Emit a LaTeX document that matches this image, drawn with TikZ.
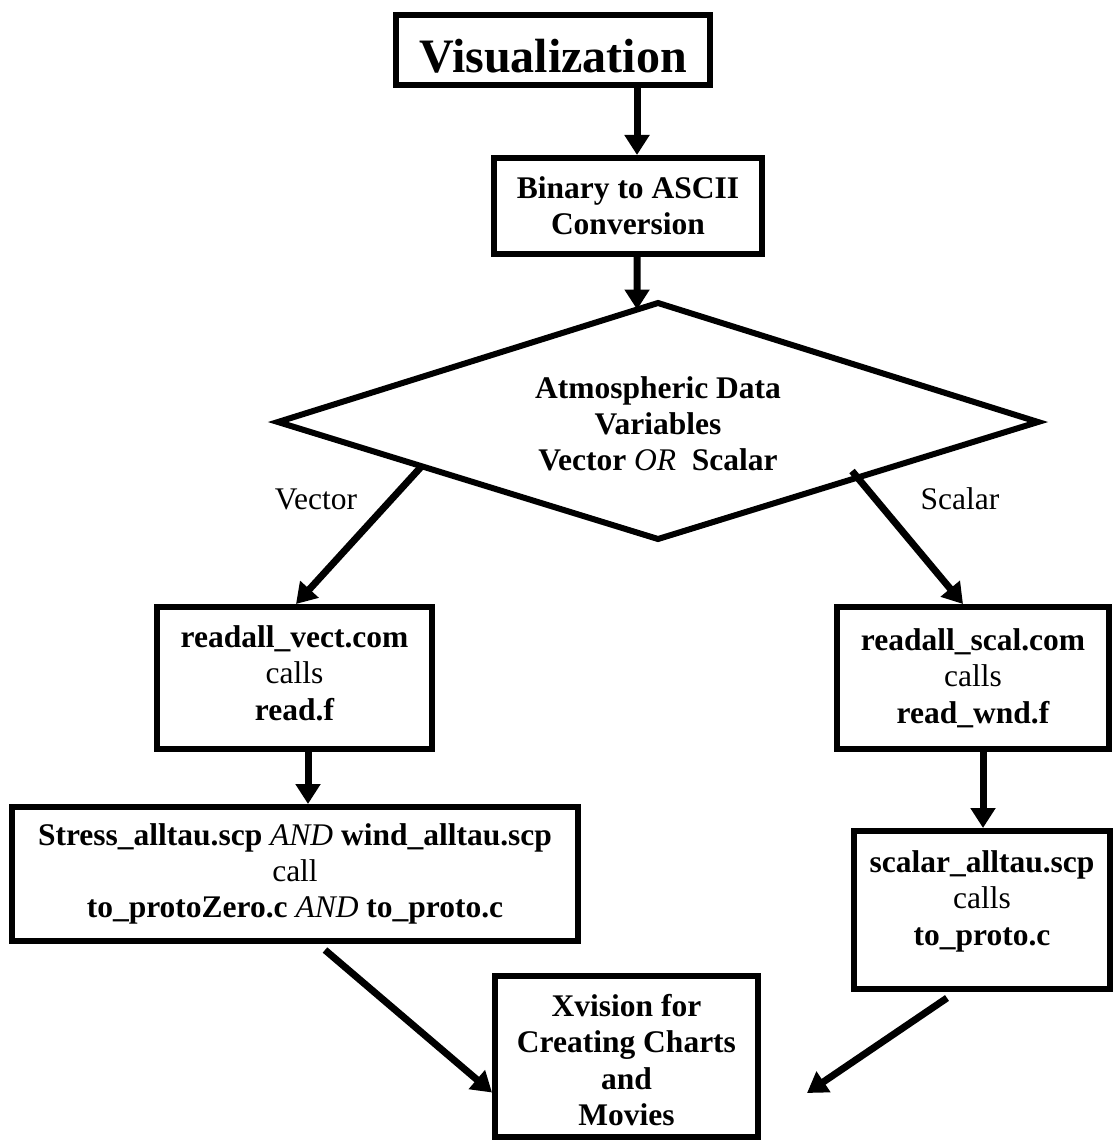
\documentclass[tikz,border=0pt]{standalone}
\usepackage{fontspec}
\setmainfont{Liberation Serif}
\usetikzlibrary{arrows.meta,calc}
% invisible rules that pad the first line's height or the last line's depth
\newcommand{\padup}[1]{\rule{0pt}{#1}}
\newcommand{\paddown}[1]{\rule[-#1]{0pt}{0pt}}
\begin{document}
\begin{tikzpicture}[x=1pt,y=-1pt,
  boxfont/.style={font=\bfseries\fontsize{31.5}{36.3}\selectfont},
  box/.style={draw, rectangle, line width=6pt, inner sep=0pt, align=center, boxfont},
  txt/.style={inner sep=0pt, align=center, boxfont},
  lbl/.style={inner sep=0pt, font=\fontsize{31.5}{36.3}\selectfont},
  arr/.style={line width=7pt, -{Triangle[length=20pt,width=24pt]}},
  edge/.style={line width=6pt, line join=miter}]
\useasboundingbox (0,0) rectangle (1115,1142);

% boxes of the flow
\node[box, minimum width=314pt, minimum height=70pt, text height=46pt, text depth=0pt,
      font=\bfseries\fontsize{48}{56}\selectfont] (vis) at (553,50) {Visualization};
\node[box, minimum width=268pt, minimum height=96pt] (bin) at (628,206)
  {Binary to ASCII\\Conversion};

% decision diamond
\coordinate (dl) at (278,422);
\coordinate (dt) at (658,303);
\coordinate (dr) at (1038,422);
\coordinate (db) at (658,539);
\draw[edge] (dl) -- (dt) -- (dr) -- (db) -- cycle;
\node[txt] (dec) at (658,424)
  {Atmospheric Data\\Variables\\Vector {\mdseries\itshape OR}\ \ Scalar};

\node[box, minimum width=275pt, minimum height=142pt] (vect) at (294.5,678)
  {readall\_vect.com\\{\mdseries calls}\\read.f\paddown{10pt}};
\node[box, minimum width=272pt, minimum height=142pt] (scal) at (973,678)
  {readall\_scal.com\\{\mdseries calls}\\read\_wnd.f};
\node[box, minimum width=566pt, minimum height=134pt] (stress) at (295,874)
  {Stress\_alltau.scp {\mdseries\itshape AND} wind\_alltau.scp\\{\mdseries call}\\to\_protoZero.c {\mdseries\itshape AND} to\_proto.c};
\node[box, minimum width=256pt, minimum height=158pt] (scalt) at (982,910)
  {scalar\_alltau.scp\\{\mdseries calls}\\to\_proto.c\paddown{24pt}};
\node[box, minimum width=263pt, minimum height=161pt] (xvis) at (626.5,1056.5)
  {\padup{29pt}Xvision for\\Creating Charts\\and\\Movies};

% branch labels
\node[lbl] (vlab) at (316,499) {Vector};
\node[lbl] (slab) at (960,499) {Scalar};

% connectors
\coordinate (xa) at (637,0);
\coordinate (c1) at (308,0);
\coordinate (c2) at (983,0);
\coordinate (dtop) at ($(dl)!0.945!(dt)$);
\coordinate (vstart) at ($(dl)!0.378!(db)$);
\coordinate (sstart) at (852,471);

\draw[arr] (vis.south -| xa) -- (bin.north -| xa);
\draw[arr] (bin.south -| xa) -- (dtop);
\draw[arr] (vstart) -- ($(vect.north)+(1.5,0)$);
\draw[arr] (sstart) -- ($(scal.north)+(-10,0)$);
\draw[arr] (vect.south -| c1) -- (stress.north -| c1);
\draw[arr] (scal.south -| c2) -- (scalt.north -| c2);
\draw[arr] ($(stress.south)+(30,6)$) -- ($(xvis.west)+(0,36)$);
\draw[arr] ($(scalt.south)+(-35,6)$) -- ($(xvis.east)+(46,36.5)$);
\end{tikzpicture}
\end{document}
